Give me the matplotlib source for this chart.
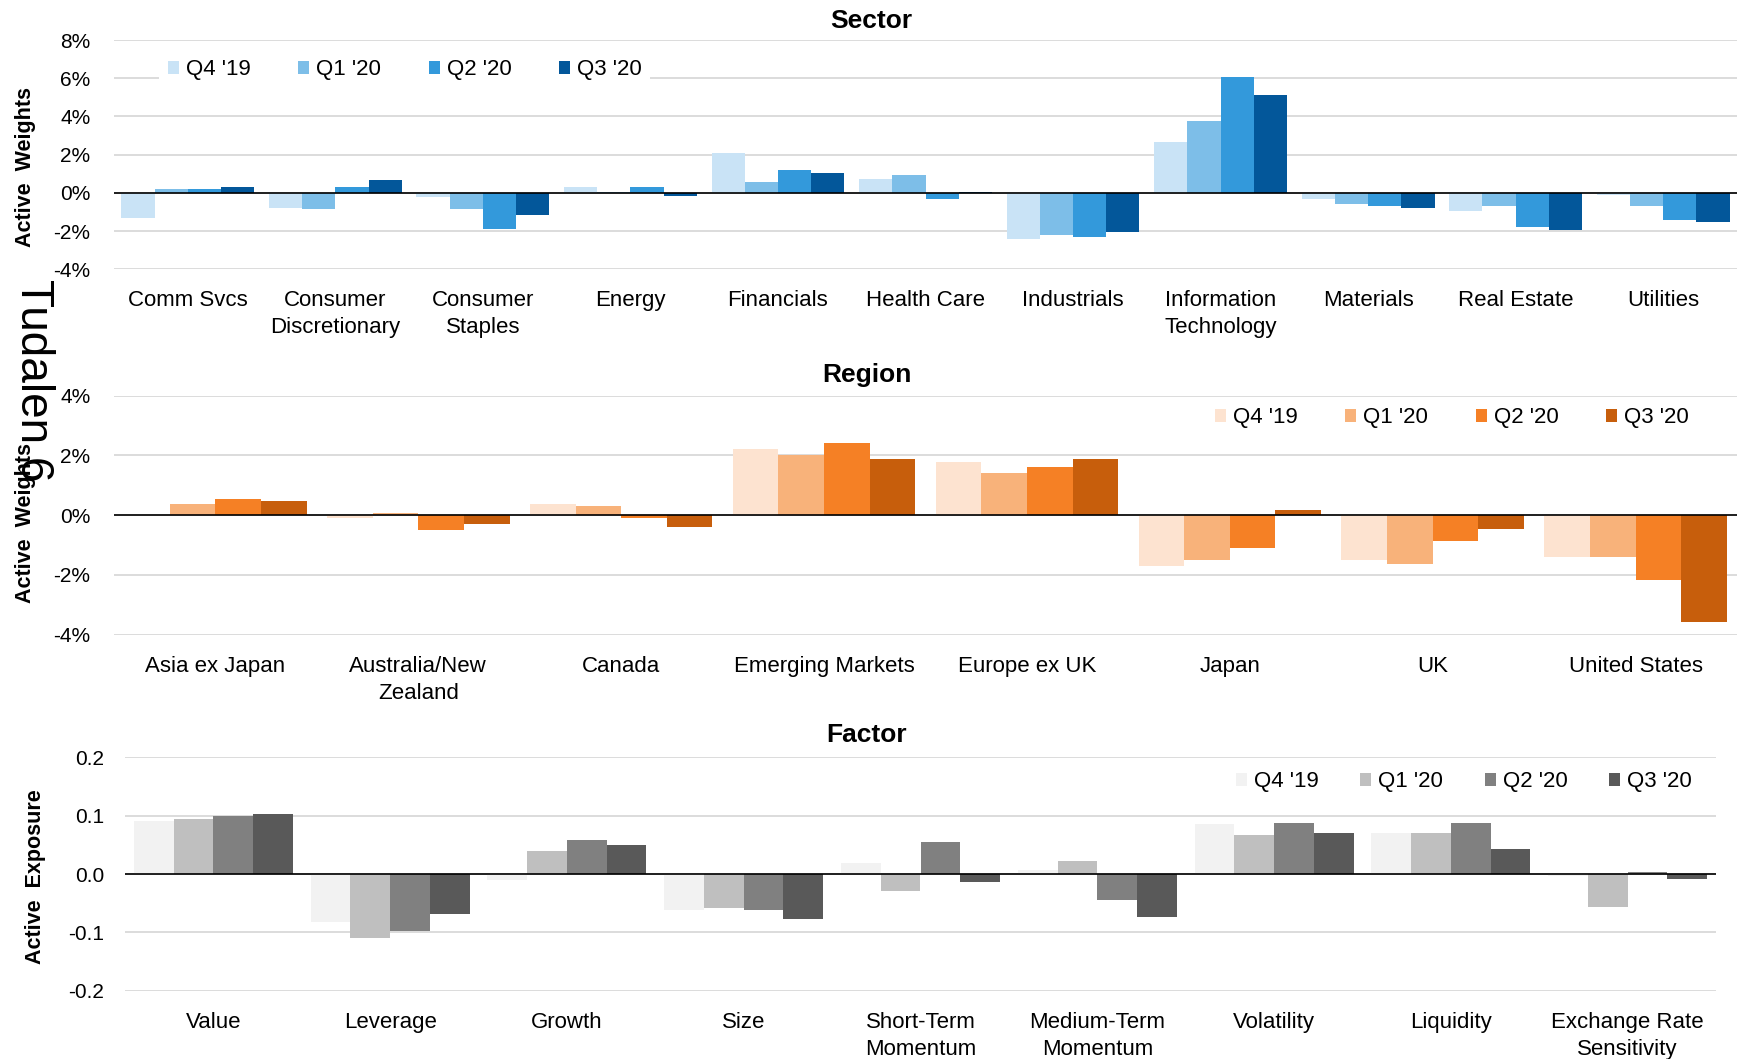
import matplotlib.pyplot as plt
import numpy as np
from matplotlib.patches import Patch

plt.rcParams['font.family'] = ['Liberation Sans', 'DejaVu Sans']

quarters = ["Q4 '19", "Q1 '20", "Q2 '20", "Q3 '20"]

# ---- Sector (active weights, %) ----
sectors = ['Comm Svcs', 'Consumer\nDiscretionary', 'Consumer\nStaples', 'Energy',
           'Financials', 'Health Care', 'Industrials', 'Information\nTechnology',
           'Materials', 'Real Estate', 'Utilities']
sector_q4 = [-1.32, -0.80, -0.22, 0.31, 2.08, 0.74, -2.41, 2.67, -0.33, -0.95, -0.10]
sector_q1 = [0.21, -0.87, -0.87, 0.02, 0.59, 0.95, -2.23, 3.77, -0.59, -0.69, -0.69]
sector_q2 = [0.22, 0.31, -1.87, 0.31, 1.21, -0.31, -2.32, 6.04, -0.69, -1.78, -1.42]
sector_q3 = [0.31, 0.68, -1.14, -0.14, 1.04, 0.04, -2.04, 5.13, -0.78, -1.96, -1.51]

# ---- Region (active weights, %) ----
regions = ['Asia ex Japan', 'Australia/New\nZealand', 'Canada', 'Emerging Markets',
           'Europe ex UK', 'Japan', 'UK', 'United States']
region_q4 = [0.00, -0.08, 0.36, 2.23, 1.77, -1.69, -1.51, -1.40]
region_q1 = [0.36, 0.08, 0.31, 2.01, 1.42, -1.51, -1.62, -1.40]
region_q2 = [0.55, -0.51, -0.10, 2.41, 1.60, -1.09, -0.86, -2.16]
region_q3 = [0.48, -0.28, -0.40, 1.89, 1.89, 0.18, -0.46, -3.56]

# ---- Factor (active exposure) ----
factors = ['Value', 'Leverage', 'Growth', 'Size', 'Short-Term\nMomentum',
           'Medium-Term\nMomentum', 'Volatility', 'Liquidity', 'Exchange Rate\nSensitivity']
factor_q4 = [0.091, -0.083, -0.011, -0.062, 0.019, 0.007, 0.085, 0.070, -0.004]
factor_q1 = [0.094, -0.110, 0.040, -0.059, -0.029, 0.022, 0.067, 0.070, -0.056]
factor_q2 = [0.100, -0.098, 0.058, -0.062, 0.055, -0.044, 0.088, 0.088, 0.004]
factor_q3 = [0.103, -0.068, 0.049, -0.077, -0.014, -0.074, 0.070, 0.043, -0.008]

blues = ['#C9E3F6', '#7DBEE8', '#3399DB', '#03579A']
oranges = ['#FDE3D0', '#F8B27A', '#F58025', '#C75E0C']
greys = ['#F2F2F2', '#BFBFBF', '#808080', '#595959']

W, H = 1737, 1059
fig = plt.figure(figsize=(W / 100, H / 100), dpi=100)


def px_axes(left, top, right, bottom):
    return fig.add_axes([left / W, 1 - bottom / H, (right - left) / W, (bottom - top) / H])


def draw_panel(ax, cats, series, colors, ylim, yticks, labels, ypad):
    x = np.arange(len(cats))
    w = 0.225
    for j, vals in enumerate(series):
        ax.bar(x + (j - 1.5) * w, vals, width=w, color=colors[j], edgecolor='none',
               zorder=2, label=quarters[j])
    ax.set_xlim(-0.5, len(cats) - 0.5)
    ax.set_ylim(*ylim)
    ax.set_yticks(yticks)
    ax.set_yticklabels(labels)
    ax.set_xticks(x)
    ax.set_xticklabels(cats, linespacing=1.38)
    ax.tick_params(axis='x', length=0, pad=15, labelsize=16)
    ax.tick_params(axis='y', length=0, pad=ypad, labelsize=15)
    ax.grid(axis='y', color='#D9D9D9', linewidth=1.3, zorder=0)
    ax.set_axisbelow(True)
    ax.axhline(0, color='black', linewidth=1.2, zorder=3)
    for s in ax.spines.values():
        s.set_visible(False)


def add_legend(ax, colors, x0, y0, colspace):
    handles = [Patch(facecolor=c, edgecolor='none', label=q) for c, q in zip(colors, quarters)]
    pad = 0.4
    # x0 = left edge of the first square (px), y0 = legend centre (px)
    anchor_x = x0 - pad * 16 * 100 / 72
    leg = ax.legend(handles=handles, ncol=4, loc='center left',
                    bbox_to_anchor=(anchor_x / W, 1 - y0 / H), bbox_transform=fig.transFigure,
                    fontsize=16, handlelength=0.5, handleheight=0.5, handletextpad=0.3,
                    columnspacing=colspace, borderpad=pad, borderaxespad=0,
                    frameon=True, fancybox=False)
    leg.get_frame().set_facecolor('white')
    leg.get_frame().set_edgecolor('none')
    leg.get_frame().set_alpha(1)
    leg.set_zorder(10)


# Sector
ax1 = px_axes(114, 40, 1737, 269.3)
draw_panel(ax1, sectors, [sector_q4, sector_q1, sector_q2, sector_q3], blues,
           (-4, 8), [-4, -2, 0, 2, 4, 6, 8], ['-4%', '-2%', '0%', '2%', '4%', '6%', '8%'], 17)
add_legend(ax1, blues, 168, 70, 2.15)

# Region
ax2 = px_axes(114, 395.7, 1737, 634.7)
draw_panel(ax2, regions, [region_q4, region_q1, region_q2, region_q3], oranges,
           (-4, 4), [-4, -2, 0, 2, 4], ['-4%', '-2%', '0%', '2%', '4%'], 17)
add_legend(ax2, oranges, 1215, 418, 2.15)

# Factor
ax3 = px_axes(125, 757.3, 1716, 990.7)
draw_panel(ax3, factors, [factor_q4, factor_q1, factor_q2, factor_q3], greys,
           (-0.2, 0.2), [-0.2, -0.1, 0.0, 0.1, 0.2], ['-0.2', '-0.1', '0.0', '0.1', '0.2'], 15)
add_legend(ax3, greys, 1236, 782, 1.88)

# titles
fig.text(871 / W, 1 - 21 / H, 'Sector', ha='center', va='center', fontsize=19, fontweight='bold')
fig.text(867 / W, 1 - 375 / H, 'Region', ha='center', va='center', fontsize=19, fontweight='bold')
fig.text(867 / W, 1 - 735 / H, 'Factor', ha='center', va='center', fontsize=19, fontweight='bold')

# y labels
fig.text(26 / W, 1 - 167 / H, 'Active  Weights', rotation=90, ha='center', va='center',
         fontsize=15.5, fontweight='bold')
fig.text(26 / W, 1 - 523 / H, 'Active  Weights', rotation=90, ha='center', va='center',
         fontsize=15.5, fontweight='bold')
fig.text(36 / W, 1 - 877 / H, 'Active  Exposure', rotation=90, ha='center', va='center',
         fontsize=15.5, fontweight='bold')

# page marker overlapping the left edge
fig.text(33 / W, 1 - 380 / H, 'Tudalen 6', rotation=-90, ha='center', va='center', fontsize=33)

fig.savefig('out.png', dpi=100)
